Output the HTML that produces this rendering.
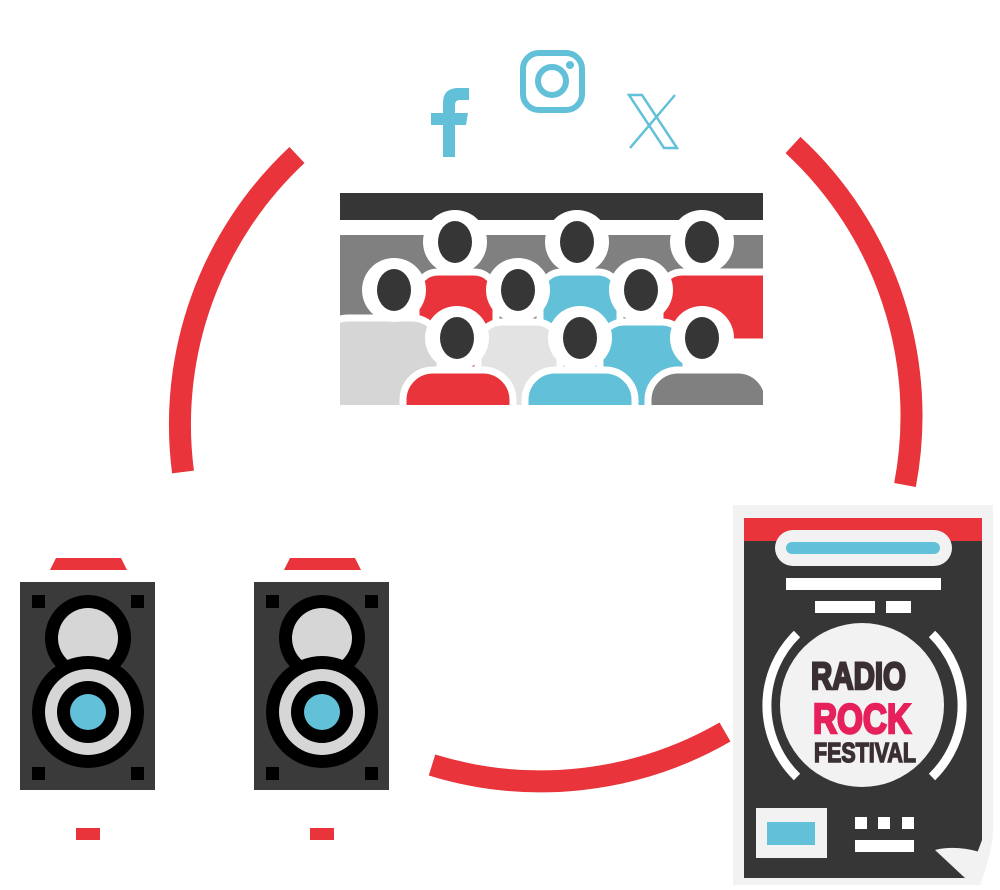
<!DOCTYPE html>
<html><head><meta charset="utf-8"><style>
html,body{margin:0;padding:0;background:#fff;width:1000px;height:890px;overflow:hidden}
svg{display:block}
text{font-family:"Liberation Sans",sans-serif;font-weight:bold}
</style></head><body>
<svg width="1000" height="890" viewBox="0 0 1000 890" xmlns="http://www.w3.org/2000/svg">
<defs>
<clipPath id="crowd"><rect x="340" y="193" width="423" height="212"/></clipPath>
</defs>
<g fill="none" stroke="#e8343a" stroke-width="22">
<path d="M297,155 A369,369 0 0 0 183,472"/>
<path d="M793,145 A369,369 0 0 1 905,485"/>
<path d="M432,765 A369,369 0 0 0 725,732"/>
</g>
<g fill="#62c1d8">
<path d="M443,157 V125 H431 V113 H443 V103 Q443,88 458,88 H469 V100 H460 Q455,100 455,105 V113 H468 L466,125 H455 V157 Z"/>
</g>
<rect x="523" y="53" width="59" height="57" rx="16" fill="none" stroke="#62c1d8" stroke-width="6"/>
<circle cx="552" cy="81" r="14" fill="none" stroke="#62c1d8" stroke-width="6"/>
<circle cx="570" cy="65" r="4" fill="#62c1d8"/>
<g fill="none" stroke="#62c1d8" stroke-width="2.5">
<path d="M629,95 H642 L677,148 H664 Z"/>
<path d="M675,95 L630,148"/>
</g>
<rect x="340" y="193" width="423" height="27" fill="#363636"/>
<g clip-path="url(#crowd)">
<rect x="340" y="235" width="423" height="110" fill="#808080"/>
<g stroke="#fff" stroke-width="7">
<rect x="416" y="272" width="80" height="120" rx="22" fill="#e8343a"/>
<rect x="540" y="272" width="80" height="120" rx="22" fill="#62c1d8"/>
<rect x="660" y="272" width="130" height="70" rx="22" fill="#e8343a"/>
</g>
<g fill="#fff"><circle cx="455" cy="242" r="32"/><circle cx="577" cy="242" r="32"/><circle cx="702" cy="242" r="32"/></g>
<g fill="#363636"><ellipse cx="455" cy="242" rx="17" ry="21"/><ellipse cx="577" cy="242" rx="17" ry="21"/><ellipse cx="702" cy="242" rx="17" ry="21"/></g>
<g stroke="#fff" stroke-width="7">
<rect x="320" y="318" width="120" height="120" rx="28" fill="#d6d6d6"/>
<rect x="478" y="322" width="82" height="120" rx="24" fill="#e3e3e3"/>
<rect x="600" y="322" width="86" height="120" rx="24" fill="#62c1d8"/>
</g>
<g fill="#fff"><circle cx="394" cy="290" r="32"/><circle cx="518" cy="290" r="32"/><circle cx="641" cy="290" r="32"/></g>
<g fill="#363636"><ellipse cx="394" cy="290" rx="17" ry="21"/><ellipse cx="518" cy="290" rx="17" ry="21"/><ellipse cx="641" cy="290" rx="17" ry="21"/></g>
<g stroke="#fff" stroke-width="7">
<rect x="403" y="370" width="110" height="80" rx="30" fill="#e8343a"/>
<rect x="525" y="370" width="110" height="80" rx="30" fill="#62c1d8"/>
<rect x="648" y="370" width="120" height="80" rx="30" fill="#808080"/>
</g>
<g fill="#fff"><circle cx="457" cy="338" r="32"/><circle cx="580" cy="338" r="32"/><circle cx="702" cy="338" r="32"/></g>
<g fill="#363636"><ellipse cx="457" cy="338" rx="17" ry="21"/><ellipse cx="580" cy="338" rx="17" ry="21"/><ellipse cx="702" cy="338" rx="17" ry="21"/></g>
</g>
<g id="sp">
<path d="M56,558 H121 L127,570 H50 Z" fill="#e8343a"/>
<rect x="20" y="582" width="135" height="208" fill="#3a3a3a"/>
<g fill="#000"><rect x="32" y="595" width="13" height="13"/><rect x="131" y="595" width="13" height="13"/><rect x="32" y="767" width="13" height="13"/><rect x="131" y="767" width="13" height="13"/></g>
<circle cx="88" cy="638" r="43" fill="#000"/>
<circle cx="88" cy="638" r="30" fill="#d6d6d6"/>
<circle cx="88" cy="712" r="56" fill="#000"/>
<circle cx="88" cy="712" r="43" fill="#d6d6d6"/>
<circle cx="88" cy="712" r="31" fill="#000"/>
<circle cx="88" cy="712" r="18" fill="#62c1d8"/>
<rect x="76" y="828" width="24" height="12" fill="#e8343a"/>
</g>
<use href="#sp" transform="translate(234,0)"/>
<path d="M733,505 H993 V830 Q993,850 980,885 H733 Z" fill="#f2f2f2"/>
<path d="M744,518 H982 V840 Q975,860 965,878 H744 Z" fill="#363636"/>
<path d="M935,850 Q955,845 980,852 L965,878 Z" fill="#f2f2f2"/>
<rect x="744" y="518" width="238" height="23" fill="#e8343a"/>
<rect x="775" y="530" width="177" height="36" rx="18" fill="#f2f2f2"/>
<rect x="786" y="542" width="154" height="12" rx="6" fill="#62c1d8"/>
<g fill="#fff">
<rect x="786" y="578" width="155" height="12"/>
<rect x="815" y="601" width="60" height="12"/>
<rect x="886" y="601" width="25" height="12"/>
</g>
<path d="M797,634 A100,100 0 0 0 797,777" fill="none" stroke="#fff" stroke-width="9"/>
<path d="M932,634 A100,100 0 0 1 932,777" fill="none" stroke="#fff" stroke-width="9"/>
<circle cx="862" cy="705" r="82" fill="#f2f2f2"/>
<text x="811" y="689" font-size="38" fill="#3a2f33" stroke="#3a2f33" stroke-width="2.5" textLength="95" lengthAdjust="spacingAndGlyphs">RADIO</text>
<text x="813" y="733" font-size="42" fill="#e6205a" stroke="#e6205a" stroke-width="2.5" textLength="98" lengthAdjust="spacingAndGlyphs">ROCK</text>
<text x="814" y="762" font-size="28" fill="#3a2f33" stroke="#3a2f33" stroke-width="1.5" textLength="102" lengthAdjust="spacingAndGlyphs">FESTIVAL</text>
<rect x="756" y="808" width="71" height="50" fill="#f2f2f2"/>
<rect x="767" y="822" width="48" height="23" fill="#62c1d8"/>
<g fill="#fff">
<rect x="855" y="817" width="12" height="12"/><rect x="878" y="817" width="12" height="12"/><rect x="902" y="817" width="12" height="12"/>
<rect x="855" y="840" width="59" height="12"/>
</g>
</svg>
</body></html>
